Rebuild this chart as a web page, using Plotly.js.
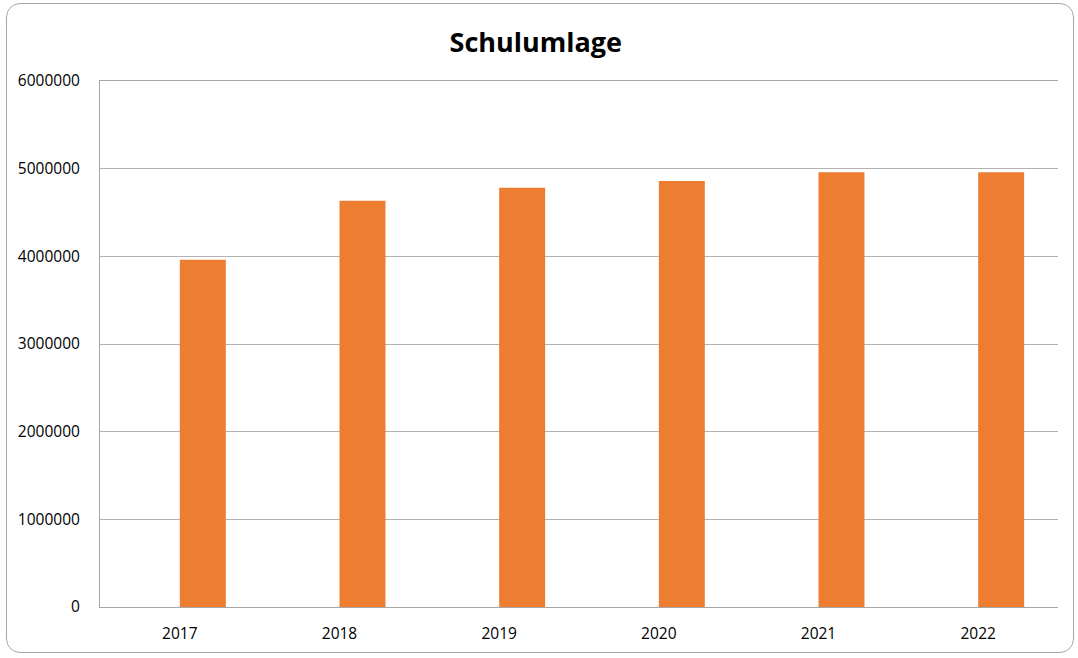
<!DOCTYPE html>
<html>
<head>
<meta charset="utf-8">
<script src="https://cdn.plot.ly/plotly-3.0.1.min.js"></script>
<style>
  html, body { margin: 0; padding: 0; background: #ffffff; }
  #wrap { position: relative; width: 1078px; height: 658px; }
  #frame { position: absolute; left: 6px; top: 3px; width: 1066px; height: 648px;
           border: 1px solid #a6a6a6; border-radius: 14px; pointer-events: none; }
  #chart { position: absolute; left: 0; top: 0; width: 1078px; height: 658px; }
</style>
</head>
<body>
<div id="wrap">
  <div id="chart"></div>
  <div id="frame"></div>
</div>
<script>
const years = ['2017', '2018', '2019', '2020', '2021', '2022'];
const schulumlage = [3960000, 4633000, 4781000, 4858000, 4958000, 4958000];
const yTicks = [0, 1000000, 2000000, 3000000, 4000000, 5000000, 6000000];
const yTickText = ['0', '1000000', '2000000', '3000000', '4000000', '5000000', '6000000'];

const trace = {
  type: 'bar',
  x: years,
  y: schulumlage,
  width: 0.288,
  offset: 0,
  marker: { color: '#ED7D31' },
  hoverinfo: 'x+y'
};

const layout = {
  width: 1078,
  height: 658,
  margin: { l: 100, r: 20, t: 81, b: 51 },
  paper_bgcolor: 'rgba(0,0,0,0)',
  plot_bgcolor: '#ffffff',
  font: { family: 'Open Sans, Liberation Sans, sans-serif', size: 15.5, color: '#000000' },
  title: {
    text: '<b>Schulumlage</b>',
    font: { family: 'Open Sans, Liberation Sans, sans-serif', size: 27, color: '#000000' },
    x: 0.497, xanchor: 'center',
    y: 0.936, yanchor: 'middle'
  },
  showlegend: false,
  xaxis: {
    type: 'category',
    showgrid: false,
    showline: true,
    mirror: true,
    linecolor: '#a6a6a6',
    linewidth: 1,
    ticks: '',
    ticklabelstandoff: 12,
    tickfont: { size: 15.5 }
  },
  yaxis: {
    range: [0, 6000000],
    tickmode: 'array',
    tickvals: yTicks,
    ticktext: yTickText,
    showgrid: true,
    gridcolor: '#b3b3b3',
    gridwidth: 1,
    zeroline: false,
    showline: true,
    linecolor: '#a6a6a6',
    linewidth: 1,
    ticks: '',
    ticklabelstandoff: 16,
    tickfont: { size: 15.5 }
  }
};

Plotly.newPlot('chart', [trace], layout, { displayModeBar: false, staticPlot: true });
</script>
</body>
</html>
